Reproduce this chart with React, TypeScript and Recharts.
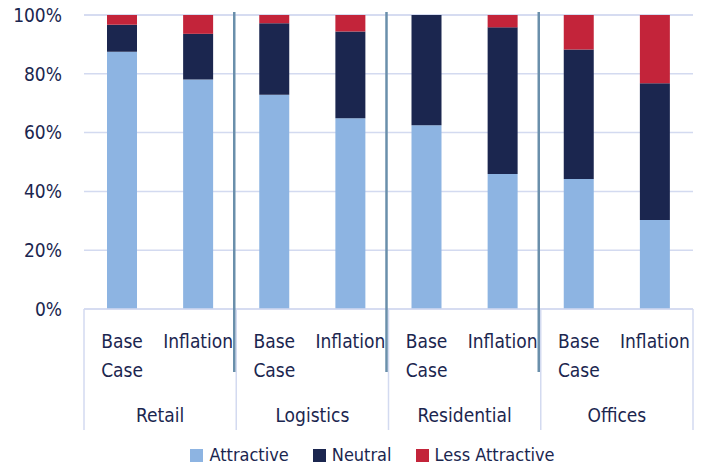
import React from 'react';
import { BarChart, Bar, XAxis, YAxis, CartesianGrid, Legend } from 'recharts';

const groups = ['Retail', 'Logistics', 'Residential', 'Offices'];
const scenarios = ['Base Case', 'Inflation', 'Base Case', 'Inflation', 'Base Case', 'Inflation', 'Base Case', 'Inflation'];
const attractive = [87.5, 78.1, 72.9, 64.9, 62.5, 45.9, 44.2, 30.3];
const neutral = [9.2, 15.5, 24.3, 29.5, 37.5, 49.9, 44.1, 46.5];
const lessAttractive = [3.3, 6.4, 2.8, 5.6, 0, 4.2, 11.7, 23.2];
const yTicks = [0, 20, 40, 60, 80, 100];

const NAVY = '#1b264f';
const LIGHT_BLUE = '#8db4e2';
const RED = '#c3243a';
const GRID = '#d3daf0';
const SEP = '#6a8fab';
const FONT = "'Liberation Sans Narrow', 'DejaVu Sans Condensed', Roboto, sans-serif";

const data = scenarios.map((s, i) => ({
  key: `${groups[Math.floor(i / 2)]} ${s}`,
  scenario: s,
  group: groups[Math.floor(i / 2)],
  attractive: attractive[i],
  neutral: neutral[i],
  lessAttractive: lessAttractive[i],
}));

const W = 712;
const H = 464;
const PLOT_LEFT = 84;
const PLOT_RIGHT = 693;
const PLOT_BOTTOM = 309;
const BAND = (PLOT_RIGHT - PLOT_LEFT) / data.length;

const CategoryTick = (props: any) => {
  const { x, index } = props;
  const row = data[index];
  const left = x - BAND / 2;
  const words = row.scenario.split(' ');
  return (
    <g>
      {words.map((w: string, k: number) => (
        <text key={k} x={x} y={348 + k * 29} textAnchor="middle" fill={NAVY} fontSize={19} fontFamily={FONT}>
          {w}
        </text>
      ))}
      {index % 2 === 0 && (
        <>
          <line x1={left} x2={left} y1={PLOT_BOTTOM} y2={430} stroke={GRID} strokeWidth={1.5} />
          <text x={x + BAND / 2} y={422} textAnchor="middle" fill={NAVY} fontSize={19} fontFamily={FONT}>
            {row.group}
          </text>
          {index > 0 && <line x1={left - 2} x2={left - 2} y1={12} y2={372} stroke={SEP} strokeWidth={2.5} />}
        </>
      )}
      {index === data.length - 1 && (
        <line x1={x + BAND / 2} x2={x + BAND / 2} y1={PLOT_BOTTOM} y2={430} stroke={GRID} strokeWidth={1.5} />
      )}
    </g>
  );
};

const legendItems = [
  { label: 'Attractive', color: LIGHT_BLUE },
  { label: 'Neutral', color: NAVY },
  { label: 'Less Attractive', color: RED },
];

const CustomLegend = () => (
  <div
    style={{
      display: 'flex',
      justifyContent: 'center',
      alignItems: 'center',
      height: 30,
      lineHeight: '22px',
      paddingTop: 0,
      paddingLeft: 52,
      boxSizing: 'border-box',
      fontFamily: FONT,
      fontSize: 18,
      color: NAVY,
      transform: 'translateY(6px)',
    }}
  >
    {legendItems.map((it) => (
      <div key={it.label} style={{ display: 'flex', alignItems: 'center', margin: '0 12px' }}>
        <span style={{ width: 13, height: 13, background: it.color, marginRight: 6, display: 'inline-block' }} />
        <span>{it.label}</span>
      </div>
    ))}
  </div>
);

export default function App() {
  return (
    <div style={{ position: 'absolute', left: 0, top: 0, width: W, height: H, background: '#fff' }}>
      <BarChart width={W} height={H} data={data} margin={{ top: 15, right: W - PLOT_RIGHT, left: 0, bottom: 0 }}>
        <CartesianGrid vertical={false} stroke={GRID} strokeWidth={1.5} />
        <XAxis
          dataKey="key"
          interval={0}
          height={125}
          tickLine={false}
          axisLine={{ stroke: GRID, strokeWidth: 1.5 }}
          tick={<CategoryTick />}
        />
        <YAxis
          width={PLOT_LEFT}
          domain={[0, 100]}
          ticks={yTicks}
          tickFormatter={(v: number) => `${v}%`}
          axisLine={false}
          tickLine={false}
          tickSize={0}
          tickMargin={22}
          tick={{ fill: NAVY, fontSize: 19, fontFamily: FONT }}
        />
        <Legend verticalAlign="bottom" height={30} content={<CustomLegend />} />
        <Bar dataKey="attractive" stackId="a" fill={LIGHT_BLUE} barSize={30} isAnimationActive={false} />
        <Bar dataKey="neutral" stackId="a" fill={NAVY} barSize={30} isAnimationActive={false} />
        <Bar dataKey="lessAttractive" stackId="a" fill={RED} barSize={30} isAnimationActive={false} />
      </BarChart>
    </div>
  );
}
